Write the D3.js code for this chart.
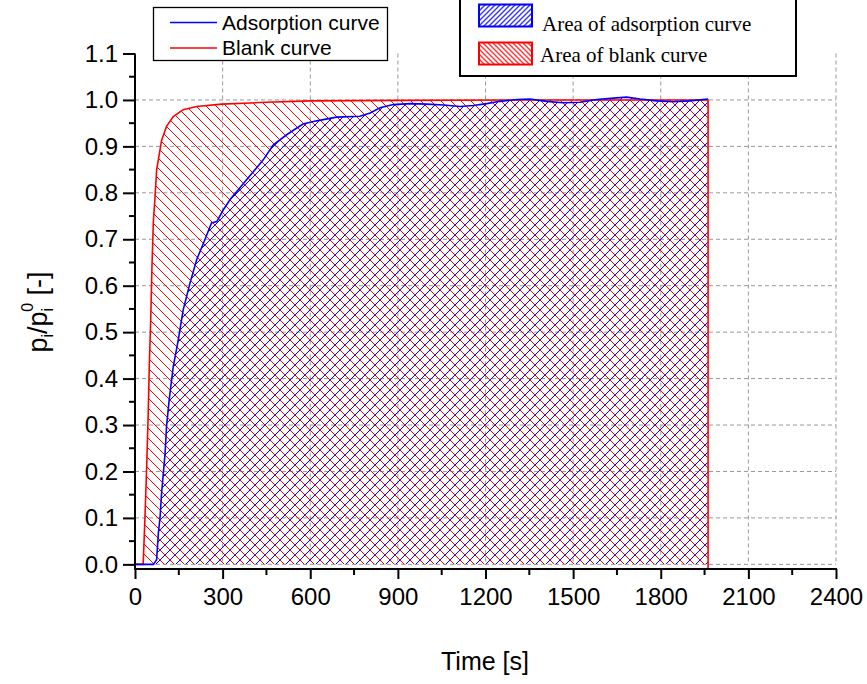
<!DOCTYPE html>
<html>
<head>
<meta charset="utf-8">
<script src="https://cdn.jsdelivr.net/npm/d3@7"></script>
<style>
  body { margin: 0; background: #fff; }
  svg { display: block; }
  .tick text { font-family: "Liberation Sans", Arial, sans-serif; }
</style>
</head>
<body>
<div id="chart"></div>
<script>
// blank curve (red)
var blankTime  = [0, 28, 34, 40, 45, 49, 54, 58, 63, 68, 74, 91, 108, 131, 165, 211, 297, 450, 599, 900, 1300, 1700, 1962];
var blankValue = [0, 0, 0.10, 0.21, 0.32, 0.43, 0.53, 0.64, 0.74, 0.785, 0.849, 0.913, 0.943, 0.964, 0.979, 0.986, 0.991, 0.995, 0.998, 0.999, 1.0, 1.0, 1.0];

// adsorption curve (blue)
var adsTime  = [0, 63, 74, 80, 86, 91, 97, 103, 108, 117, 131, 148, 165, 188, 211, 234, 262, 280, 302, 325, 382, 439, 473, 519, 575, 622, 690, 770, 805, 839, 884, 942, 999, 1056, 1113, 1158, 1204, 1250, 1307, 1352, 1409, 1466, 1524, 1581, 1638, 1683, 1729, 1786, 1843, 1900, 1962];
var adsValue = [0, 0, 0.01, 0.067, 0.103, 0.153, 0.196, 0.239, 0.297, 0.354, 0.426, 0.483, 0.548, 0.605, 0.656, 0.691, 0.735, 0.738, 0.763, 0.785, 0.828, 0.871, 0.903, 0.925, 0.948, 0.955, 0.963, 0.965, 0.972, 0.983, 0.990, 0.992, 0.991, 0.989, 0.986, 0.988, 0.992, 0.997, 1.001, 1.002, 0.997, 0.994, 0.995, 1.001, 1.004, 1.006, 1.002, 0.998, 0.996, 0.998, 1.002];

var xTicks = [0, 300, 600, 900, 1200, 1500, 1800, 2100, 2400];
var xMinor = [150, 450, 750, 1050, 1350, 1650, 1950, 2250];
var yTicks = [0.0, 0.1, 0.2, 0.3, 0.4, 0.5, 0.6, 0.7, 0.8, 0.9, 1.0, 1.1];
var yMinor = [0.05, 0.15, 0.25, 0.35, 0.45, 0.55, 0.65, 0.75, 0.85, 0.95, 1.05];

var legendLines = ["Adsorption curve", "Blank curve"];
var legendAreas = ["Area of adsorption curve", "Area of blank curve"];

var width = 867, height = 684;
var fontSans = '"Liberation Sans", Arial, sans-serif';
var fontSerif = '"Liberation Serif", "Times New Roman", serif';

var svg = d3.select('#chart').append('svg')
    .attr('width', width)
    .attr('height', height);

var x = d3.scaleLinear().domain([0, 2400]).range([135, 836]);
var y = d3.scaleLinear().domain([-0.01, 1.1]).range([569, 53.5]);

// hatch patterns
var defs = svg.append('defs');
function hatch(id, color, size, sw, forward) {
    var p = defs.append('pattern')
        .attr('id', id)
        .attr('patternUnits', 'userSpaceOnUse')
        .attr('width', size)
        .attr('height', size);
    var s = size;
    var d = forward
        ? 'M-1,1 l2,-2 M0,' + s + ' l' + s + ',-' + s + ' M' + (s - 1) + ',' + (s + 1) + ' l2,-2'
        : 'M-1,' + (s - 1) + ' l2,2 M0,0 l' + s + ',' + s + ' M' + (s - 1) + ',-1 l2,2';
    p.append('path')
        .attr('d', d)
        .attr('stroke', color)
        .attr('stroke-width', sw)
        .attr('fill', 'none');
}
hatch('hBlue', '#0000ff', 10, 1, true);
hatch('hRed', '#ff0000', 10, 1, false);
hatch('lBlue', '#3333ff', 5, 1.4, true);
hatch('lRed', '#ff3333', 5, 1.4, false);

// grid
var grid = svg.append('g').attr('stroke', '#999').attr('stroke-dasharray', '4,3').attr('stroke-width', 1);
grid.selectAll('.hg')
    .data(yTicks.filter(function (d) { return d < 1.05; }))
    .enter().append('line')
    .attr('x1', x(0)).attr('x2', x(2400))
    .attr('y1', function (d) { return y(d); })
    .attr('y2', function (d) { return y(d); });
grid.selectAll('.vg')
    .data(xTicks.filter(function (d) { return d > 0; }))
    .enter().append('line')
    .attr('x1', function (d) { return x(d); })
    .attr('x2', function (d) { return x(d); })
    .attr('y1', y(1.1)).attr('y2', y(0));

var blank = blankTime.map(function (t, i) { return [t, blankValue[i]]; });
var ads = adsTime.map(function (t, i) { return [t, adsValue[i]]; });

var area = d3.area()
    .x(function (d) { return x(d[0]); })
    .y0(y(0))
    .y1(function (d) { return y(d[1]); });
var line = d3.line()
    .x(function (d) { return x(d[0]); })
    .y(function (d) { return y(d[1]); });

svg.append('path').attr('d', area(ads)).attr('fill', 'url(#hBlue)');
svg.append('path').attr('d', area(blank)).attr('fill', 'url(#hRed)');

var last = blank[blank.length - 1];
svg.append('path')
    .attr('d', line(blank.concat([[last[0], -0.01]])))
    .attr('fill', 'none').attr('stroke', '#ff0000').attr('stroke-width', 1.6);
svg.append('path')
    .attr('d', line(ads))
    .attr('fill', 'none').attr('stroke', '#0000ff').attr('stroke-width', 1.6);

// axes
var xAxis = svg.append('g')
    .attr('transform', 'translate(0,' + y(-0.01) + ')')
    .call(d3.axisBottom(x).tickValues(xTicks).tickSize(10).tickPadding(9).tickFormat(d3.format('d')));
xAxis.append('g').selectAll('line').data(xMinor).enter().append('line')
    .attr('x1', function (d) { return x(d); }).attr('x2', function (d) { return x(d); })
    .attr('y1', 0).attr('y2', 6).attr('stroke', '#000').attr('stroke-width', 2);

var yAxis = svg.append('g')
    .attr('transform', 'translate(' + x(0) + ',0)')
    .call(d3.axisLeft(y).tickValues(yTicks).tickSize(12).tickPadding(5).tickFormat(d3.format('.1f')));
yAxis.append('g').selectAll('line').data(yMinor).enter().append('line')
    .attr('x1', 0).attr('x2', -6)
    .attr('y1', function (d) { return y(d); }).attr('y2', function (d) { return y(d); })
    .attr('stroke', '#000').attr('stroke-width', 2);

[xAxis, yAxis].forEach(function (a) {
    a.select('.domain').remove();
    a.selectAll('.tick line').attr('stroke-width', 2);
    a.selectAll('.tick text').attr('font-size', 24).attr('fill', '#000');
});
svg.append('line').attr('x1', x(0) - 1).attr('x2', x(2400) + 1).attr('y1', y(-0.01)).attr('y2', y(-0.01))
    .attr('stroke', '#000').attr('stroke-width', 2);
svg.append('line').attr('x1', x(0)).attr('x2', x(0)).attr('y1', y(1.1)).attr('y2', y(-0.01))
    .attr('stroke', '#000').attr('stroke-width', 2);

// axis titles
svg.append('text')
    .attr('x', 485).attr('y', 670)
    .attr('text-anchor', 'middle')
    .attr('font-family', fontSans).attr('font-size', 25)
    .text('Time [s]');

var yl = svg.append('text')
    .attr('transform', 'translate(47,312) rotate(-90)')
    .attr('text-anchor', 'middle')
    .attr('font-family', fontSans).attr('font-size', 27);
yl.append('tspan').text('p');
yl.append('tspan').attr('font-size', 16).attr('dy', 6).text('i');
yl.append('tspan').attr('dy', -6).text('/p');
yl.append('tspan').attr('font-size', 16).attr('dy', 6).text('i');
yl.append('tspan').attr('font-size', 16).attr('dx', -4).attr('dy', -20).text('0');
yl.append('tspan').attr('dy', 14).text(' [-]');

// legend 1: lines
var lg1 = svg.append('g');
lg1.append('rect').attr('x', 153.5).attr('y', 7.5).attr('width', 234).attr('height', 53)
    .attr('fill', '#fff').attr('stroke', '#000').attr('stroke-width', 1.3);
var lineColors = ['#0000ff', '#ff0000'];
lg1.selectAll('.ll').data(legendLines).enter().append('line')
    .attr('x1', 170).attr('x2', 217)
    .attr('y1', function (d, i) { return 22.5 + i * 25.5; })
    .attr('y2', function (d, i) { return 22.5 + i * 25.5; })
    .attr('stroke', function (d, i) { return lineColors[i]; })
    .attr('stroke-width', 1.4);
lg1.selectAll('.lt').data(legendLines).enter().append('text')
    .attr('x', 222)
    .attr('y', function (d, i) { return 30 + i * 24.5; })
    .attr('font-family', fontSans).attr('font-size', 21)
    .text(function (d) { return d; });

// legend 2: areas
var lg2 = svg.append('g');
lg2.append('rect').attr('x', 460).attr('y', -2).attr('width', 336).attr('height', 78)
    .attr('fill', '#fff').attr('stroke', '#000').attr('stroke-width', 2);
var patchFill = ['url(#lBlue)', 'url(#lRed)'];
lg2.selectAll('.lp').data(legendAreas).enter().append('rect')
    .attr('x', 479).attr('y', function (d, i) { return 4.5 + i * 38; })
    .attr('width', 53).attr('height', 22)
    .attr('fill', function (d, i) { return patchFill[i]; })
    .attr('stroke', function (d, i) { return lineColors[i]; })
    .attr('stroke-width', 2);
lg2.selectAll('.at').data(legendAreas).enter().append('text')
    .attr('x', function (d, i) { return i === 0 ? 542 : 540; })
    .attr('y', function (d, i) { return 31 + i * 31; })
    .attr('font-family', fontSerif).attr('font-size', 21)
    .text(function (d) { return d; });
</script>
</body>
</html>
